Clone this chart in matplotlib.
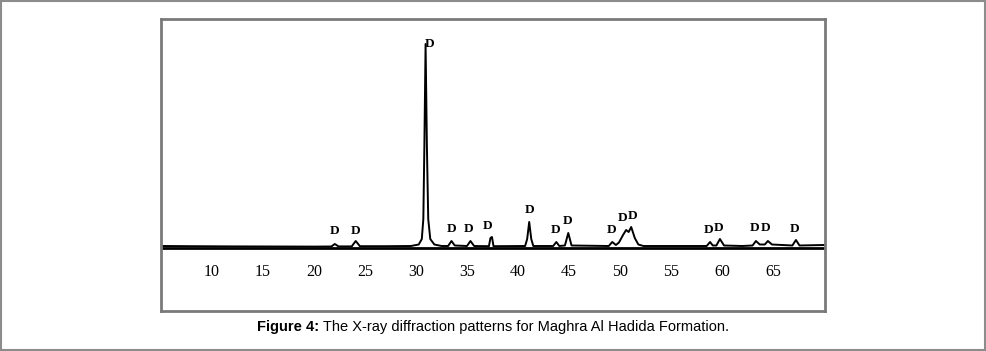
import matplotlib
matplotlib.use("Agg")
import matplotlib.pyplot as plt
from matplotlib.patches import Rectangle

# XRD trace (2-theta in degrees, intensity in arbitrary units)
two_theta = [5.2, 8.0, 12.0, 16.0, 20.0, 21.7, 22.04, 22.4, 23.7, 24.09, 24.5,
             27.0, 29.5, 30.27, 30.57, 30.72, 30.82, 30.94, 31.07, 31.2, 31.4,
             31.8, 32.5, 33.15, 33.48, 33.8, 35.0, 35.34, 35.7, 37.15, 37.3,
             37.45, 37.6, 40.7, 40.9, 41.1, 41.3, 41.5, 43.45, 43.76, 44.05,
             44.6, 44.93, 45.25, 48.9, 49.24, 49.6, 49.9, 50.3, 50.6, 50.85,
             51.1, 51.45, 51.8, 52.3, 58.5, 58.83, 59.1, 59.45, 59.8, 60.2,
             62.0, 63.0, 63.33, 63.7, 64.2, 64.5, 64.9, 66.9, 67.25, 67.6, 70.0]
intensity = [1.0, 0.8, 0.6, 0.5, 0.4, 0.5, 3, 0.6, 0.6, 6, 0.8,
             0.8, 1.0, 2.5, 8, 28, 100, 203, 100, 28, 8,
             2.5, 1.0, 1.0, 6, 1.5, 1.0, 6, 1.0, 0.8, 9,
             10, 0.8, 1.0, 8, 25, 8, 1.0, 1.0, 5, 1.0,
             1.5, 14, 1.5, 1.0, 5, 2.0, 4.5, 12, 17, 15,
             20, 9, 2.5, 1.0, 1.0, 5, 1.5, 1.5, 8, 1.5,
             1.0, 1.5, 6, 2.5, 2.5, 6, 2.5, 1.5, 7, 1.5, 2.0]

# "D" (dolomite) peak labels
label_x = [22.04, 24.09, 31.33, 33.48, 35.15, 37.0, 41.1, 43.66, 44.83, 49.14,
           50.3, 51.2, 58.73, 59.71, 63.23, 64.3, 67.14]
label_y = [16, 16, 203, 18, 18, 21, 37, 17, 26, 17, 29, 31, 17, 19, 19, 19, 18]

tick_values = [10, 15, 20, 25, 30, 35, 40, 45, 50, 55, 60, 65]

W, H = 986, 351
fig = plt.figure(figsize=(W / 100, H / 100), dpi=100)

# outer gray frame
fig.patches.append(Rectangle((0.0008, 0.002), 0.998, 0.996, transform=fig.transFigure,
                             fill=False, edgecolor="#8c8c8c", linewidth=1.5))

ax = fig.add_axes([161 / W, (H - 311) / H, (825 - 161) / W, (311 - 19) / H])
for s in ax.spines.values():
    s.set_color("#7a7a7a")
    s.set_linewidth(2)
ax.set_xticks([])
ax.set_yticks([])
ax.set_xlim(5.0, 70.1)
ax.set_ylim(-64, 228)

ax.axhline(-0.8, color="black", lw=2.0, xmin=0.003, xmax=0.997)
ax.plot(two_theta, intensity, color="black", lw=1.4, solid_joinstyle="round")

for x, y in zip(label_x, label_y):
    ax.text(x, y, "D", ha="center", va="center", fontsize=9.5, fontweight="bold",
            family="Liberation Serif")

for t in tick_values:
    ax.text(t, -25, str(t), ha="center", va="center", fontsize=11.5,
            family="Liberation Serif")

# caption: bold "Figure 4:" followed by regular text
fig.canvas.draw()
r = fig.canvas.get_renderer()
cap_y = 1 - 327 / H
t1 = fig.text(0, cap_y, "Figure 4:", fontsize=10.5, fontweight="bold",
              family="Liberation Sans", va="center")
t2 = fig.text(0, cap_y, " The X-ray diffraction patterns for Maghra Al Hadida Formation.",
              fontsize=10.5, family="Liberation Sans", va="center")
w1 = t1.get_window_extent(r).width / W
w2 = t2.get_window_extent(r).width / W
x0 = 493 / W - (w1 + w2) / 2
t1.set_x(x0)
t2.set_x(x0 + w1)

fig.savefig("out.png", dpi=100)
